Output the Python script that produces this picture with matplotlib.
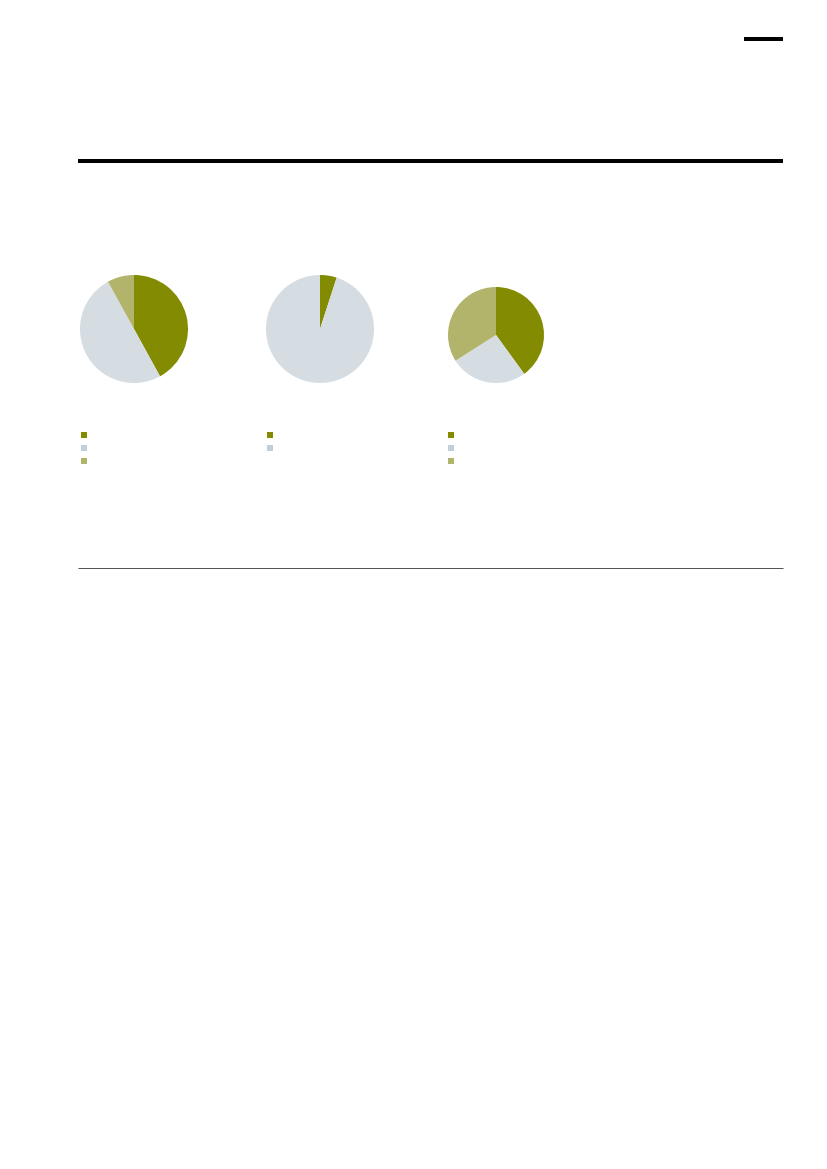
import matplotlib
matplotlib.use("Agg")
import matplotlib.pyplot as plt
from matplotlib.lines import Line2D

W, H = 827, 1169

# Data (shares in %)
pie1_values = [42, 50, 8]
pie2_values = [5, 95]
pie3_values = [40, 26, 34]

green = "#838B00"
grey = "#D6DDE2"
khaki = "#B3B46B"
legend_grey = "#C5CED8"

pie1_colors = [green, grey, khaki]
pie2_colors = [green, grey]
pie3_colors = [green, grey, khaki]

fig = plt.figure(figsize=(W / 100, H / 100), dpi=100)
fig.patch.set_facecolor("white")


def px_axes(left, top, width, height):
    return fig.add_axes([left / W, 1 - (top + height) / H, width / W, height / H])


def draw_pie(left, top, size, values, colors):
    ax = px_axes(left, top, size, size)
    ax.pie(values, colors=colors, startangle=90, counterclock=False,
           wedgeprops=dict(linewidth=0))
    ax.set_xlim(-1, 1)
    ax.set_ylim(-1, 1)
    ax.set_aspect("equal")
    ax.axis("off")
    return ax


draw_pie(80, 275, 108, pie1_values, pie1_colors)
draw_pie(266, 275, 108, pie2_values, pie2_colors)
draw_pie(448, 287, 96, pie3_values, pie3_colors)


def draw_legend(left, colors):
    ax = px_axes(left, 428, 12, 40)
    n = len(colors)
    leg_cols = [green, legend_grey, khaki][:n]
    ax.scatter([0] * n, list(range(n)), marker="s", s=(6 * 0.72) ** 2,
               c=leg_cols, linewidths=0)
    ax.set_xlim(-1, 1)
    ax.set_ylim(2.5, -0.5)
    ax.axis("off")


draw_legend(77.5, pie1_colors)
draw_legend(263.5, pie2_colors)
draw_legend(444.5, pie3_colors)

# Decorative rules
def hline(x0, x1, y, lw_px, color):
    fig.add_artist(Line2D([x0 / W, x1 / W], [1 - y / H, 1 - y / H],
                          transform=fig.transFigure, color=color,
                          linewidth=lw_px * 0.72, solid_capstyle="butt"))

hline(744, 783, 39.3, 4, "black")
hline(78, 783, 161.3, 4, "black")
hline(78, 783, 567.5, 1, "#555555")

fig.savefig("out.png", dpi=100, facecolor="white")
